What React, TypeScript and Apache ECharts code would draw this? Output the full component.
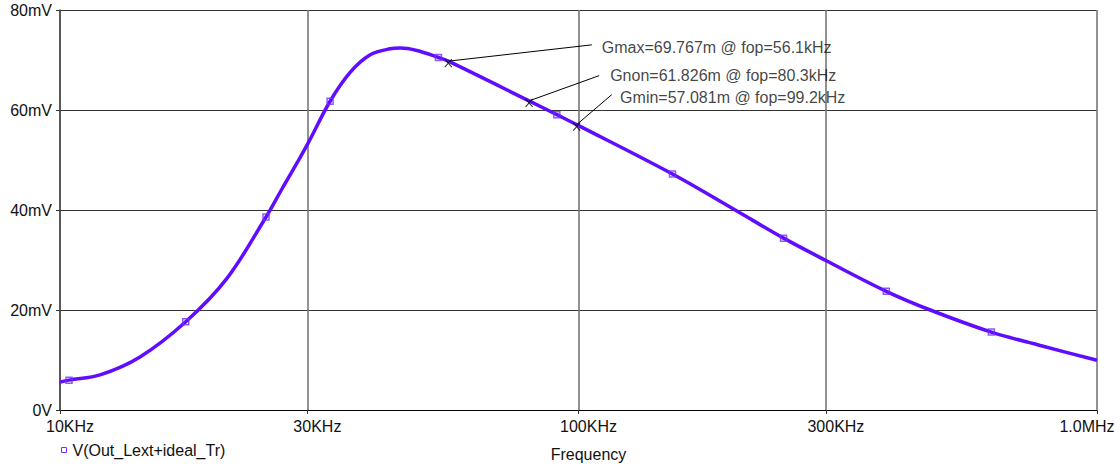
import React, { useEffect, useRef } from "react";
import * as echarts from "echarts";

// Curve samples (frequency in Hz, value in mV)
const freqHz = [
  10000, 10408, 11945, 14266, 17478, 20970, 24967, 26929, 29040, 30130,
  33183, 36269, 39650, 43305, 45290, 48770, 53690, 56100, 80300, 90830, 99200,
  151800, 200500, 248600, 300000, 392300, 476900, 625500, 777500, 1000000,
];
const voltMv = [
  5.57, 5.97, 7.02, 10.61, 17.65, 26.27, 38.6, 44.6, 50.49, 53.47,
  61.75, 67.52, 71.04, 72.24, 72.38, 71.9, 70.5, 69.767, 61.826, 59.07, 57.081,
  47.2, 40.0, 34.37, 29.9, 23.74, 20.0, 15.58, 12.9, 9.95,
];

// Square data markers along the trace
const markerFreqHz = [10408, 17478, 24967, 33183, 53690, 90830, 151800, 248600, 392300, 625500];
const markerMv = [5.97, 17.65, 38.6, 61.75, 70.5, 59.07, 47.2, 34.37, 23.74, 15.58];

// Annotations
const annFreqHz = [56100, 80300, 99200];
const annMv = [69.767, 61.826, 57.081];
const annText = [
  "Gmax=69.767m @ fop=56.1kHz",
  "Gnon=61.826m @ fop=80.3kHz",
  "Gmin=57.081m @ fop=99.2kHz",
];
const leaderEndFreqHz = [106110, 109600, 115950];
const leaderEndMv = [73.03, 66.87, 63.08];
const labelFreqHz = [110920, 115090, 120300];
const labelMv = [72.58, 66.93, 62.43];

// Axis ticks
const xTickValues = [10000, 30000, 100000, 300000, 1000000];
const xTickLabels = ["10KHz", "30KHz", "100KHz", "300KHz", "1.0MHz"];
const yTickValues = [0, 20, 40, 60, 80];
const yTickLabels = ["0V", "20mV", "40mV", "60mV", "80mV"];

const seriesName = "V(Out_Lext+ideal_Tr)";
const FONT = "Liberation Sans, Arial, Helvetica, sans-serif";

export default function App() {
  const ref = useRef<HTMLDivElement>(null);

  useEffect(() => {
    if (!ref.current) return;
    const chart = echarts.init(ref.current, undefined, { renderer: "svg" });

    const lineColor = "#600cff";
    const markColor = "#6f30ff";

    const annSeries: any[] = [];
    annFreqHz.forEach((f, i) => {
      annSeries.push({
        type: "line",
        data: [
          [f, annMv[i]],
          [leaderEndFreqHz[i], leaderEndMv[i]],
        ],
        symbol: "none",
        lineStyle: { color: "#000", width: 1 },
        z: 5,
        silent: true,
      });
    });

    const option: any = {
      animation: false,
      backgroundColor: "#fff",
      textStyle: { fontFamily: FONT },
      grid: { left: 60, right: 23, top: 10, bottom: 55, containLabel: false },
      legend: {
        show: true,
        data: [{ name: seriesName, icon: "rect" }],
        left: 61,
        top: 442,
        padding: 0,
        itemWidth: 5,
        itemHeight: 5,
        itemGap: 6,
        itemStyle: { color: "#fff", borderColor: markColor, borderWidth: 1 },
        lineStyle: { width: 0 },
        textStyle: { fontFamily: FONT, fontSize: 16, color: "#111", padding: [0, 0, 0, 1] },
      },
      xAxis: {
        type: "log",
        logBase: 10,
        min: 10000,
        max: 1000000,
        name: "Frequency",
        nameLocation: "middle",
        nameGap: 36,
        nameTextStyle: { fontFamily: FONT, fontSize: 16, color: "#111", padding: [0, 0, 0, 20] },
        axisLine: { show: true, lineStyle: { color: "#000", width: 1 } },
        axisTick: {
          show: true,
          inside: false,
          length: 4,
          customValues: xTickValues,
          lineStyle: { color: "#333" },
        },
        minorTick: { show: false },
        splitLine: { show: true, lineStyle: { color: "#777", width: 1.6 } },
        axisLabel: {
          margin: 8,
          customValues: xTickValues,
          formatter: (v: number) => {
            const idx = xTickValues.findIndex((t) => Math.abs(t - v) / t < 1e-6);
            const txt = idx >= 0 ? xTickLabels[idx] : "";
            return idx === xTickValues.length - 1 ? `{e|${txt}}` : `{n|${txt}}`;
          },
          rich: {
            n: { fontFamily: FONT, fontSize: 16, color: "#111", padding: [0, 0, 0, 20] },
            e: { fontFamily: FONT, fontSize: 16, color: "#111", padding: [0, 20, 0, 0] },
          },
        },
      },
      yAxis: {
        type: "value",
        min: 0,
        max: 80,
        interval: 20,
        axisLine: { show: true, lineStyle: { color: "#444", width: 1.5 } },
        axisTick: { show: true, inside: false, length: 4, lineStyle: { color: "#333" } },
        splitLine: { show: true, lineStyle: { color: "#333", width: 1 } },
        axisLabel: {
          margin: 8,
          fontFamily: FONT,
          fontSize: 16,
          color: "#111",
          formatter: (v: number) => {
            const idx = yTickValues.indexOf(v);
            return idx >= 0 ? yTickLabels[idx] : "";
          },
        },
      },
      series: [
        {
          name: seriesName,
          type: "line",
          data: freqHz.map((f, i) => [f, voltMv[i]]),
          smooth: 0.35,
          showSymbol: false,
          symbol: "none",
          lineStyle: { color: lineColor, width: 3.5 },
          itemStyle: { color: lineColor },
          z: 3,
        },
        {
          name: "markers",
          type: "scatter",
          data: markerFreqHz.map((f, i) => [f, markerMv[i]]),
          symbol: "rect",
          symbolSize: 6,
          itemStyle: { color: "rgba(255,255,255,0)", borderColor: markColor, borderWidth: 1.5 },
          z: 4,
          silent: true,
        },
        ...annSeries,
        {
          name: "annMarks",
          type: "scatter",
          data: annFreqHz.map((f, i) => [f, annMv[i]]),
          symbol: "path://M0,0L10,10M10,0L0,10",
          symbolSize: [7, 8],
          symbolOffset: [0, 2],
          itemStyle: { color: "rgba(0,0,0,0)", borderColor: "#000", borderWidth: 1.2 },
          z: 6,
          silent: true,
        },
        {
          name: "annLabels",
          type: "scatter",
          data: labelFreqHz.map((f, i) => ({ value: [f, labelMv[i]], label: { formatter: annText[i] } })),
          symbolSize: 0,
          label: {
            show: true,
            position: "right",
            distance: 0,
            fontFamily: FONT,
            fontSize: 16,
            color: "#111",
          },
          z: 6,
          silent: true,
        },
      ],
    };

    chart.setOption(option);
    return () => chart.dispose();
  }, []);

  return (
    <div
      ref={ref}
      style={{ position: "fixed", left: 0, top: 0, width: 1120, height: 467 }}
    />
  );
}
